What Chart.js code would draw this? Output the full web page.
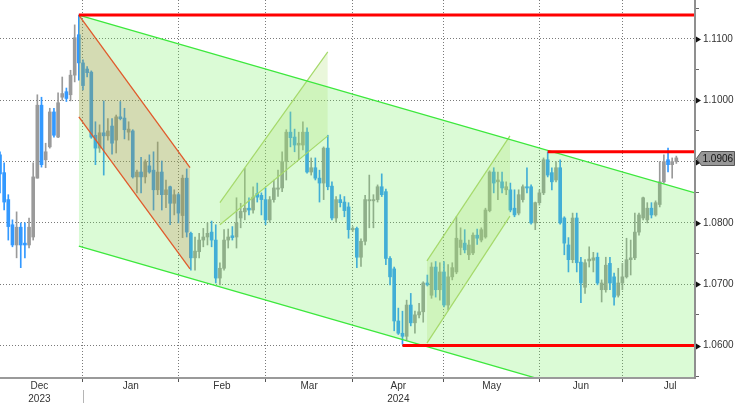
<!DOCTYPE html>
<html>
<head>
<meta charset="utf-8">
<script src="https://cdn.jsdelivr.net/npm/chart.js@4.4.1/dist/chart.umd.min.js"></script>
<style>
  html, body { margin: 0; padding: 0; background: #fff; }
</style>
</head>
<body>
<canvas id="myChart" width="736" height="403"></canvas>
<script>
// daily candles, trading-day index starting at 1 (early Dec 2023 .. mid Jul 2024)
const firstDay = 1;
const opens = [
  1.0911,1.0882,1.0838,1.0797,1.0764,1.0793,1.0767,1.0764,1.0777,1.0873,
  1.0992,1.0903,1.0924,1.0981,1.0940,1.1005,1.1014,1.1009,1.1041,1.1107,
  1.1061,1.1051,1.1046,1.0943,1.0922,1.0947,1.0942,1.0958,1.0935,1.0973,
  1.0971,1.0948,1.0950,1.0875,1.0883,1.0875,1.0893,1.0886,1.0854,1.0883,
  1.0846,1.0859,1.0832,1.0846,1.0812,1.0873,1.0783,1.0743,1.0753,1.0772,
  1.0777,1.0785,1.0772,1.0710,1.0726,1.0772,1.0779,1.0777,1.0808,1.0818,
  1.0824,1.0821,1.0848,1.0845,1.0838,1.0805,1.0838,1.0855,1.0857,1.0900,
  1.0948,1.0940,1.0927,1.0927,1.0948,1.0883,1.0890,1.0873,1.0865,1.0922,
  1.0860,1.0808,1.0838,1.0834,1.0826,1.0789,1.0791,1.0744,1.0770,1.0836,
  1.0836,1.0838,1.0859,1.0851,1.0742,1.0725,1.0640,1.0620,1.0615,1.0666,
  1.0637,1.0650,1.0655,1.0702,1.0682,1.0728,1.0691,1.0720,1.0666,1.0712,
  1.0720,1.0760,1.0767,1.0748,1.0751,1.0780,1.0772,1.0777,1.0820,1.0883,
  1.0867,1.0867,1.0854,1.0854,1.0824,1.0816,1.0838,1.0859,1.0859,1.0800,
  1.0833,1.0849,1.0903,1.0882,1.0870,1.0890,1.0808,1.0764,1.0740,1.0808,
  1.0736,1.0695,1.0738,1.0739,1.0744,1.0691,1.0691,1.0734,1.0712,1.0682,
  1.0702,1.0712,1.0740,1.0743,1.0785,1.0808,1.0805,1.0824,1.0813,1.0830,
  1.0867,1.0903,1.0895,1.0900
];
const highs = [
  1.0916,1.0898,1.0846,1.0805,1.0818,1.0800,1.0800,1.0808,1.0898,1.1009,
  1.1005,1.0930,1.0987,1.0987,1.1012,1.1038,1.1020,1.1049,1.1123,1.1139,
  1.1066,1.1055,1.1048,1.0965,1.0960,1.0999,1.0970,1.0970,1.0976,1.0998,
  1.0987,1.0965,1.0952,1.0886,1.0907,1.0903,1.0911,1.0916,1.0932,1.0901,
  1.0870,1.0860,1.0854,1.0848,1.0878,1.0888,1.0785,1.0777,1.0783,1.0791,
  1.0800,1.0803,1.0797,1.0735,1.0789,1.0790,1.0794,1.0841,1.0832,1.0889,
  1.0841,1.0859,1.0865,1.0849,1.0857,1.0843,1.0870,1.0886,1.0916,1.0952,
  1.0981,1.0953,1.0948,1.0965,1.0955,1.0906,1.0906,1.0886,1.0924,1.0943,
  1.0867,1.0843,1.0846,1.0843,1.0833,1.0794,1.0793,1.0774,1.0845,1.0878,
  1.0846,1.0862,1.0880,1.0855,1.0745,1.0728,1.0661,1.0656,1.0674,1.0685,
  1.0656,1.0669,1.0704,1.0715,1.0735,1.0737,1.0735,1.0737,1.0732,1.0735,
  1.0810,1.0792,1.0789,1.0772,1.0784,1.0790,1.0792,1.0824,1.0885,1.0890,
  1.0883,1.0883,1.0867,1.0865,1.0854,1.0854,1.0862,1.0890,1.0862,1.0834,
  1.0854,1.0906,1.0916,1.0890,1.0900,1.0903,1.0810,1.0776,1.0816,1.0816,
  1.0744,1.0740,1.0761,1.0752,1.0751,1.0707,1.0744,1.0744,1.0718,1.0726,
  1.0734,1.0775,1.0772,1.0816,1.0816,1.0842,1.0833,1.0833,1.0836,1.0900,
  1.0911,1.0922,1.0906,1.0909
];
const lows = [
  1.0849,1.0821,1.0772,1.0761,1.0743,1.0727,1.0743,1.0759,1.0772,1.0873,
  1.0891,1.0890,1.0922,1.0940,1.0939,1.1000,1.0998,1.0999,1.1030,1.1033,
  1.1017,1.1038,1.0938,1.0895,1.0915,1.0878,1.0935,1.0912,1.0914,1.0968,
  1.0937,1.0935,1.0873,1.0849,1.0849,1.0865,1.0881,1.0821,1.0846,1.0821,
  1.0825,1.0797,1.0813,1.0800,1.0776,1.0777,1.0723,1.0723,1.0743,1.0761,
  1.0764,1.0761,1.0702,1.0699,1.0723,1.0759,1.0772,1.0759,1.0792,1.0805,
  1.0813,1.0816,1.0834,1.0813,1.0797,1.0801,1.0834,1.0843,1.0851,1.0870,
  1.0924,1.0916,1.0903,1.0919,1.0881,1.0878,1.0870,1.0834,1.0838,1.0854,
  1.0805,1.0801,1.0826,1.0810,1.0775,1.0786,1.0727,1.0729,1.0764,1.0792,
  1.0792,1.0834,1.0843,1.0732,1.0699,1.0624,1.0618,1.0602,1.0609,1.0632,
  1.0620,1.0645,1.0638,1.0697,1.0677,1.0679,1.0674,1.0663,1.0658,1.0707,
  1.0717,1.0748,1.0751,1.0740,1.0748,1.0765,1.0769,1.0775,1.0818,1.0849,
  1.0838,1.0849,1.0846,1.0818,1.0810,1.0813,1.0834,1.0849,1.0798,1.0789,
  1.0829,1.0846,1.0875,1.0854,1.0867,1.0798,1.0748,1.0720,1.0735,1.0720,
  1.0670,1.0685,1.0728,1.0720,1.0699,1.0671,1.0687,1.0691,1.0666,1.0679,
  1.0691,1.0710,1.0715,1.0740,1.0780,1.0805,1.0800,1.0808,1.0811,1.0826,
  1.0865,1.0883,1.0873,1.0897
];
const closes = [
  1.0880,1.0834,1.0794,1.0764,1.0793,1.0764,1.0764,1.0793,1.0875,1.0992,
  1.0895,1.0916,1.0981,1.0943,1.0996,1.1011,1.1003,1.1041,1.1102,1.1061,
  1.1024,1.1045,1.0940,1.0922,1.0947,1.0942,1.0950,1.0930,1.0973,1.0970,
  1.0952,1.0953,1.0875,1.0883,1.0875,1.0900,1.0883,1.0854,1.0883,1.0846,
  1.0854,1.0832,1.0846,1.0816,1.0873,1.0785,1.0743,1.0754,1.0772,1.0777,
  1.0783,1.0772,1.0710,1.0726,1.0772,1.0777,1.0776,1.0800,1.0819,1.0824,
  1.0821,1.0842,1.0842,1.0838,1.0805,1.0838,1.0857,1.0857,1.0900,1.0948,
  1.0939,1.0927,1.0930,1.0948,1.0883,1.0890,1.0873,1.0865,1.0922,1.0859,
  1.0808,1.0838,1.0833,1.0820,1.0789,1.0791,1.0744,1.0770,1.0838,1.0838,
  1.0838,1.0859,1.0846,1.0742,1.0712,1.0640,1.0620,1.0615,1.0666,1.0637,
  1.0650,1.0655,1.0702,1.0699,1.0728,1.0691,1.0720,1.0666,1.0712,1.0727,
  1.0775,1.0772,1.0756,1.0764,1.0780,1.0775,1.0789,1.0821,1.0883,1.0865,
  1.0870,1.0857,1.0859,1.0821,1.0813,1.0846,1.0859,1.0857,1.0800,1.0833,
  1.0849,1.0903,1.0878,1.0867,1.0890,1.0800,1.0767,1.0740,1.0808,1.0735,
  1.0702,1.0735,1.0741,1.0743,1.0702,1.0702,1.0731,1.0702,1.0679,1.0702,
  1.0712,1.0740,1.0743,1.0785,1.0813,1.0841,1.0824,1.0813,1.0833,1.0867,
  1.0900,1.0895,1.0900,1.0906
];

// month boundaries (trading-day index) and their labels
const monthEdges = [0, 21, 44, 65, 86, 108, 131, 151, 174];
const monthNames = [['Dec', '2023'], 'Jan', 'Feb', 'Mar', ['Apr', '2024'], 'May', 'Jun', 'Jul'];

// price axis ticks
const yLabelled = [1.06, 1.07, 1.08, 1.09, 1.10, 1.11];
const yMinor = [1.055, 1.065, 1.075, 1.085, 1.095, 1.105, 1.115];

// drawn studies: [day index, price]
const mainUpper = [[20, 1.1139], [168.5, 1.0849]];
const mainLower = [[20, 1.0762], [168.5, 1.0472]];
const fallUpper = [[20, 1.1139], [46.8, 1.0890]];
const fallLower = [[20, 1.0973], [46.8, 1.0725]];
const riseAUpper = [[54, 1.0833], [80, 1.1079]];
const riseALower = [[54, 1.0797], [80, 1.0942]];
const riseBUpper = [[103.9, 1.0738], [123.9, 1.0942]];
const riseBLower = [[103.9, 1.0604], [123.9, 1.0811]];
const levelHigh = [20, 1.1139];
const levelMid = [133, 1.0916];
const levelLow = [98, 1.0600];

const xMin = 1, xMax = 168.5;
const lastPrice = closes[closes.length - 1];

const blue = '#3399ff';
const grey = '#9a9a9a';
const fontFamily = '"Liberation Sans", Arial, sans-serif';

const days = opens.map((v, i) => i + firstDay);
const monthCenters = monthNames.map((m, k) => (monthEdges[k] + monthEdges[k + 1]) / 2);
const gridEdges = monthEdges.filter(v => v > xMin && v < xMax);

function candleColor(ctx) {
  const i = ctx.dataIndex;
  return closes[i] < opens[i] ? blue : grey;
}

function pts(list) {
  return list.map(p => ({x: p[0], y: p[1]}));
}

function fillSet(list, color, order, fillNext) {
  return {
    type: 'line', data: pts(list), borderWidth: 0, pointRadius: 0, pointHoverRadius: 0,
    backgroundColor: color, fill: fillNext ? '+1' : false, order: order, clip: 0
  };
}

function strokeSet(list, color, width, order) {
  return {
    type: 'line', data: pts(list), borderColor: color, borderWidth: width, pointRadius: 0,
    pointHoverRadius: 0, fill: false, order: order, clip: 0
  };
}

function levelSet(lv) {
  return strokeSet([[lv[0], lv[1]], [xMax, lv[1]]], '#ff0000', 3, 0);
}

const mainFill = 'rgba(110,240,90,0.25)';
const fallFill = 'rgba(190,110,60,0.22)';
const riseFill = 'rgba(170,225,110,0.25)';

const decorations = {
  id: 'decorations',
  afterDraw(chart) {
    const {ctx, chartArea, scales} = chart;
    const y = scales.y, x = scales.x;
    ctx.save();
    // pointers at labelled price ticks
    ctx.fillStyle = '#111';
    yLabelled.forEach(v => {
      const py = Math.round(y.getPixelForValue(v)) + 0.5;
      ctx.beginPath();
      ctx.moveTo(chartArea.right + 1, py - 3);
      ctx.lineTo(chartArea.right + 6, py);
      ctx.lineTo(chartArea.right + 1, py + 3);
      ctx.closePath();
      ctx.fill();
    });
    // last price tag
    const ly = Math.round(y.getPixelForValue(lastPrice)) + 0.5;
    const l = chartArea.right + 1.5, r = chart.width - 1.5;
    ctx.beginPath();
    ctx.moveTo(l, ly);
    ctx.lineTo(l + 5, ly - 7);
    ctx.lineTo(r, ly - 7);
    ctx.lineTo(r, ly + 7);
    ctx.lineTo(l + 5, ly + 7);
    ctx.closePath();
    ctx.fillStyle = '#979797';
    ctx.fill();
    ctx.strokeStyle = '#555';
    ctx.lineWidth = 1;
    ctx.stroke();
    ctx.fillStyle = '#111';
    ctx.font = '10px ' + fontFamily;
    ctx.textBaseline = 'middle';
    ctx.textAlign = 'left';
    ctx.fillText(lastPrice.toFixed(4), l + 6, ly + 0.5);
    // year separator below the axis
    const sx = Math.round(x.getPixelForValue(monthEdges[1])) + 0.5;
    ctx.strokeStyle = '#b5b5b5';
    ctx.beginPath();
    ctx.moveTo(sx, chartArea.bottom + 12);
    ctx.lineTo(sx, chart.height);
    ctx.stroke();
    ctx.restore();
  }
};

Chart.defaults.font.family = fontFamily;

const chart = new Chart('myChart', {
  type: 'bar',
  data: {
    datasets: [
      {
        data: days.map((d, i) => ({x: d, y: [lows[i], highs[i]]})),
        backgroundColor: candleColor, barThickness: 1, grouped: false, order: 30
      },
      {
        data: days.map((d, i) => ({x: d, y: [opens[i], closes[i]]})),
        backgroundColor: candleColor, barThickness: 3, grouped: false, minBarLength: 1, order: 29
      },
      fillSet(mainUpper, mainFill, 20, true),
      fillSet(mainLower, mainFill, 20, false),
      fillSet(fallUpper, fallFill, 15, true),
      fillSet(fallLower, fallFill, 15, false),
      fillSet(riseAUpper, riseFill, 15, true),
      fillSet(riseALower, riseFill, 15, false),
      fillSet(riseBUpper, riseFill, 15, true),
      fillSet(riseBLower, riseFill, 15, false),
      strokeSet(mainUpper, '#3de83d', 1.3, 5),
      strokeSet(mainLower, '#3de83d', 1.3, 5),
      strokeSet(fallUpper, '#e05a2b', 1.3, 5),
      strokeSet(fallLower, '#e05a2b', 1.3, 5),
      strokeSet(riseAUpper, '#a5d96a', 1.2, 5),
      strokeSet(riseALower, '#a5d96a', 1.2, 5),
      strokeSet(riseBUpper, '#a5d96a', 1.2, 5),
      strokeSet(riseBLower, '#a5d96a', 1.2, 5),
      levelSet(levelHigh),
      levelSet(levelMid),
      levelSet(levelLow)
    ]
  },
  options: {
    responsive: false,
    animation: false,
    events: [],
    devicePixelRatio: 1,
    layout: { padding: 0 },
    plugins: { legend: { display: false }, tooltip: { enabled: false } },
    scales: {
      x: {
        type: 'linear',
        min: xMin,
        max: xMax,
        offset: false,
        afterBuildTicks: (s) => {
          s.ticks = gridEdges.concat(monthCenters).map(v => ({value: v}));
        },
        afterFit: (s) => {
          s.height = 25;
          s.paddingLeft = 0;
          s.paddingRight = 0;
        },
        grid: {
          offset: false,
          color: (c) => gridEdges.includes(c.tick && c.tick.value) ? '#7a7a7a' : 'rgba(0,0,0,0)',
          tickColor: (c) => gridEdges.includes(c.tick && c.tick.value) ? '#555' : 'rgba(0,0,0,0)',
          tickLength: 4,
          lineWidth: 1
        },
        border: { display: true, color: '#9a9a9a', width: 2, dash: [1, 2], z: 1 },
        ticks: {
          autoSkip: false,
          maxRotation: 0,
          padding: -2,
          color: '#333',
          font: { size: 10, lineHeight: 1.25 },
          callback: (v) => {
            const k = monthCenters.indexOf(v);
            return k >= 0 ? monthNames[k] : '';
          }
        }
      },
      y: {
        type: 'linear',
        position: 'right',
        min: 1.0547,
        max: 1.11636,
        afterBuildTicks: (s) => {
          s.ticks = yLabelled.concat(yMinor).sort((a, b) => a - b).map(v => ({value: v}));
        },
        afterFit: (s) => {
          s.width = 41;
          s.paddingTop = 0;
          s.paddingBottom = 0;
        },
        grid: {
          color: (c) => yLabelled.some(v => Math.abs(v - (c.tick ? c.tick.value : 0)) < 1e-6) ? '#7a7a7a' : 'rgba(0,0,0,0)',
          tickColor: '#666',
          tickLength: 4,
          lineWidth: 1
        },
        border: { display: true, color: '#8f8f8f', width: 2, dash: [1, 2], z: 1 },
        ticks: {
          padding: 4,
          color: '#333',
          font: { size: 10 },
          callback: (v) => yLabelled.some(t => Math.abs(t - v) < 1e-6) ? v.toFixed(4) : ''
        }
      }
    }
  },
  plugins: [decorations]
});
</script>
</body>
</html>
